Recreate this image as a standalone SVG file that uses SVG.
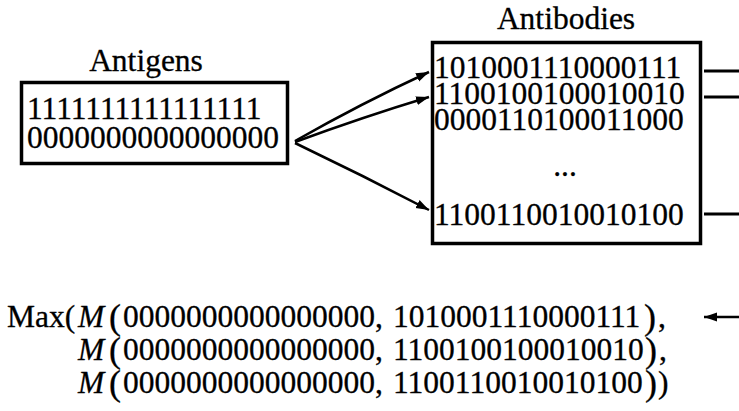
<svg xmlns="http://www.w3.org/2000/svg" width="739" height="411" viewBox="0 0 739 411">
  <style>
    text { font-family: "Liberation Serif", "Times New Roman", serif; font-size: 31.5px; fill: #000; stroke: #000; stroke-width: 0.3; }
    .it { font-style: italic; }
    .par { font-size: 36px; }
    .box { fill: none; stroke: #000; stroke-width: 3.5; }
    .edge { fill: none; stroke: #000; stroke-width: 2.5; }
    .tick { fill: none; stroke: #000; stroke-width: 3; }
  </style>
  <defs>
    <marker id="head" markerUnits="userSpaceOnUse" markerWidth="14" markerHeight="10" refX="13" refY="4.5" orient="auto">
      <path d="M0,0 L13,4.5 L0,9 z" fill="#000"/>
    </marker>
  </defs>
  <rect width="739" height="411" fill="#fff"/>

  <!-- antigen population -->
  <g id="antigens">
    <text x="146" y="71" text-anchor="middle">Antigens</text>
    <rect class="box" x="21.5" y="82.5" width="266" height="81"/>
    <text x="27" y="119">1111111111111111</text>
    <text x="27" y="148">0000000000000000</text>
  </g>

  <!-- antibody repertoire -->
  <g id="antibodies">
    <text x="566" y="29" text-anchor="middle">Antibodies</text>
    <rect class="box" x="432.5" y="42.5" width="268" height="201"/>
    <text x="434" y="78">1010001110000111</text>
    <text x="434" y="104">1100100100010010</text>
    <text x="434" y="130">0000110100011000</text>
    <text x="565" y="176" text-anchor="middle">...</text>
    <text x="434" y="225">1100110010010100</text>
  </g>

  <!-- matching score expression -->
  <g id="formula">
    <text x="7" y="327">Max(</text>
    <text class="it" x="78" y="327">M</text>
    <text class="par" x="109" y="329">(</text>
    <text x="123" y="327">0000000000000000,</text>
    <text x="393" y="327">1010001110000111</text>
    <text class="par" x="644" y="329">)</text>
    <text x="658" y="327">,</text>

    <text class="it" x="78" y="360">M</text>
    <text class="par" x="109" y="362">(</text>
    <text x="123" y="360">0000000000000000,</text>
    <text x="393" y="360">1100100100010010</text>
    <text class="par" x="645" y="362">)</text>
    <text x="659" y="360">,</text>

    <text class="it" x="78" y="393">M</text>
    <text class="par" x="109" y="395">(</text>
    <text x="123" y="393">0000000000000000,</text>
    <text x="393" y="393">1100110010010100</text>
    <text class="par" x="645" y="395">)</text>
    <text x="658" y="393">)</text>
  </g>

  <!-- connectors -->
  <g id="connectors">
    <path class="edge" d="M295,141 Q362,103 429,72" marker-end="url(#head)"/>
    <path class="edge" d="M295,142 Q363,117 429,97" marker-end="url(#head)"/>
    <path class="edge" d="M295,143 Q362,175 429,210" marker-end="url(#head)"/>
    <line class="tick" x1="704" y1="71" x2="739" y2="71"/>
    <line class="tick" x1="704" y1="97" x2="739" y2="97"/>
    <line class="tick" x1="704" y1="214" x2="739" y2="214"/>
    <line class="edge" x1="739" y1="317" x2="704" y2="317" marker-end="url(#head)"/>
  </g>
</svg>
